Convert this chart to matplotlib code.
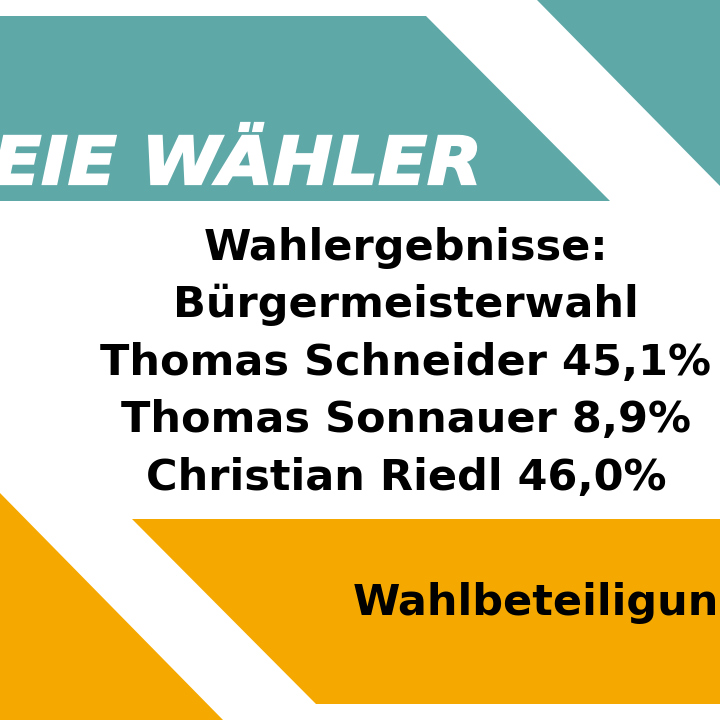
import matplotlib
matplotlib.use("Agg")
import matplotlib.pyplot as plt
from matplotlib.patches import Polygon, PathPatch
from matplotlib.textpath import TextPath
from matplotlib.font_manager import FontProperties
from matplotlib.transforms import Affine2D

# ── Content ───────────────────────────────────────────────────────────────────

logo_text = "EIE WÄHLER"
title_lines = ["Wahlergebnisse:", "Bürgermeisterwahl"]
candidates = ["Thomas Schneider", "Thomas Sonnauer", "Christian Riedl"]
shares = [45.1, 8.9, 46.0]
footer_text = "Wahlbeteiligung"

TEAL = "#5fa8a8"
ORANGE = "#f5a900"


def fmt_share(v):
    return f"{v:.1f}".replace(".", ",") + "%"


fig = plt.figure(figsize=(7.2, 7.2), dpi=100)
ax = fig.add_axes([0, 0, 1, 1])
ax.set_xlim(0, 720)
ax.set_ylim(720, 0)
ax.axis("off")

# ── Background shapes ─────────────────────────────────────────────────────────

ax.add_patch(Polygon([(0, 16), (426, 16), (610, 201), (0, 201)], color=TEAL, lw=0))
ax.add_patch(Polygon([(537, 0), (720, 0), (720, 186)], color=TEAL, lw=0))
ax.add_patch(Polygon([(0, 493), (223, 720), (0, 720)], color=ORANGE, lw=0))
ax.add_patch(Polygon([(132, 519), (720, 519), (720, 704), (316, 704)], color=ORANGE, lw=0))

# ── Logo lettering (condensed heavy italic) ───────────────────────────────────

fp = FontProperties(family="DejaVu Sans", weight="bold", style="oblique")
tp = TextPath((0, 0), logo_text, size=100, prop=fp)
bb = tp.get_extents()
x0, x1, y_top, y_bot = -6, 476, 123, 184
sx = (x1 - x0) / bb.width
sy = (y_bot - y_top) / bb.height
tr = Affine2D().translate(-bb.x0, -bb.y0).scale(sx, -sy).translate(x0, y_bot)
ax.add_patch(PathPatch(tr.transform_path(tp), facecolor="white",
                       edgecolor="white", lw=1.6, joinstyle="miter"))

# ── Result lines ──────────────────────────────────────────────────────────────

lines = title_lines + [f"{n} {fmt_share(v)}" for n, v in zip(candidates, shares)]
baseline0, step = 260, 57.5
for i, line in enumerate(lines):
    ax.text(406, baseline0 + i * step, line, ha="center", va="baseline",
            fontsize=31, fontweight="bold", family="DejaVu Sans", color="black")

ax.text(353, 615, footer_text, ha="left", va="baseline",
        fontsize=31, fontweight="bold", family="DejaVu Sans", color="black")

fig.savefig("out.png", dpi=100)
